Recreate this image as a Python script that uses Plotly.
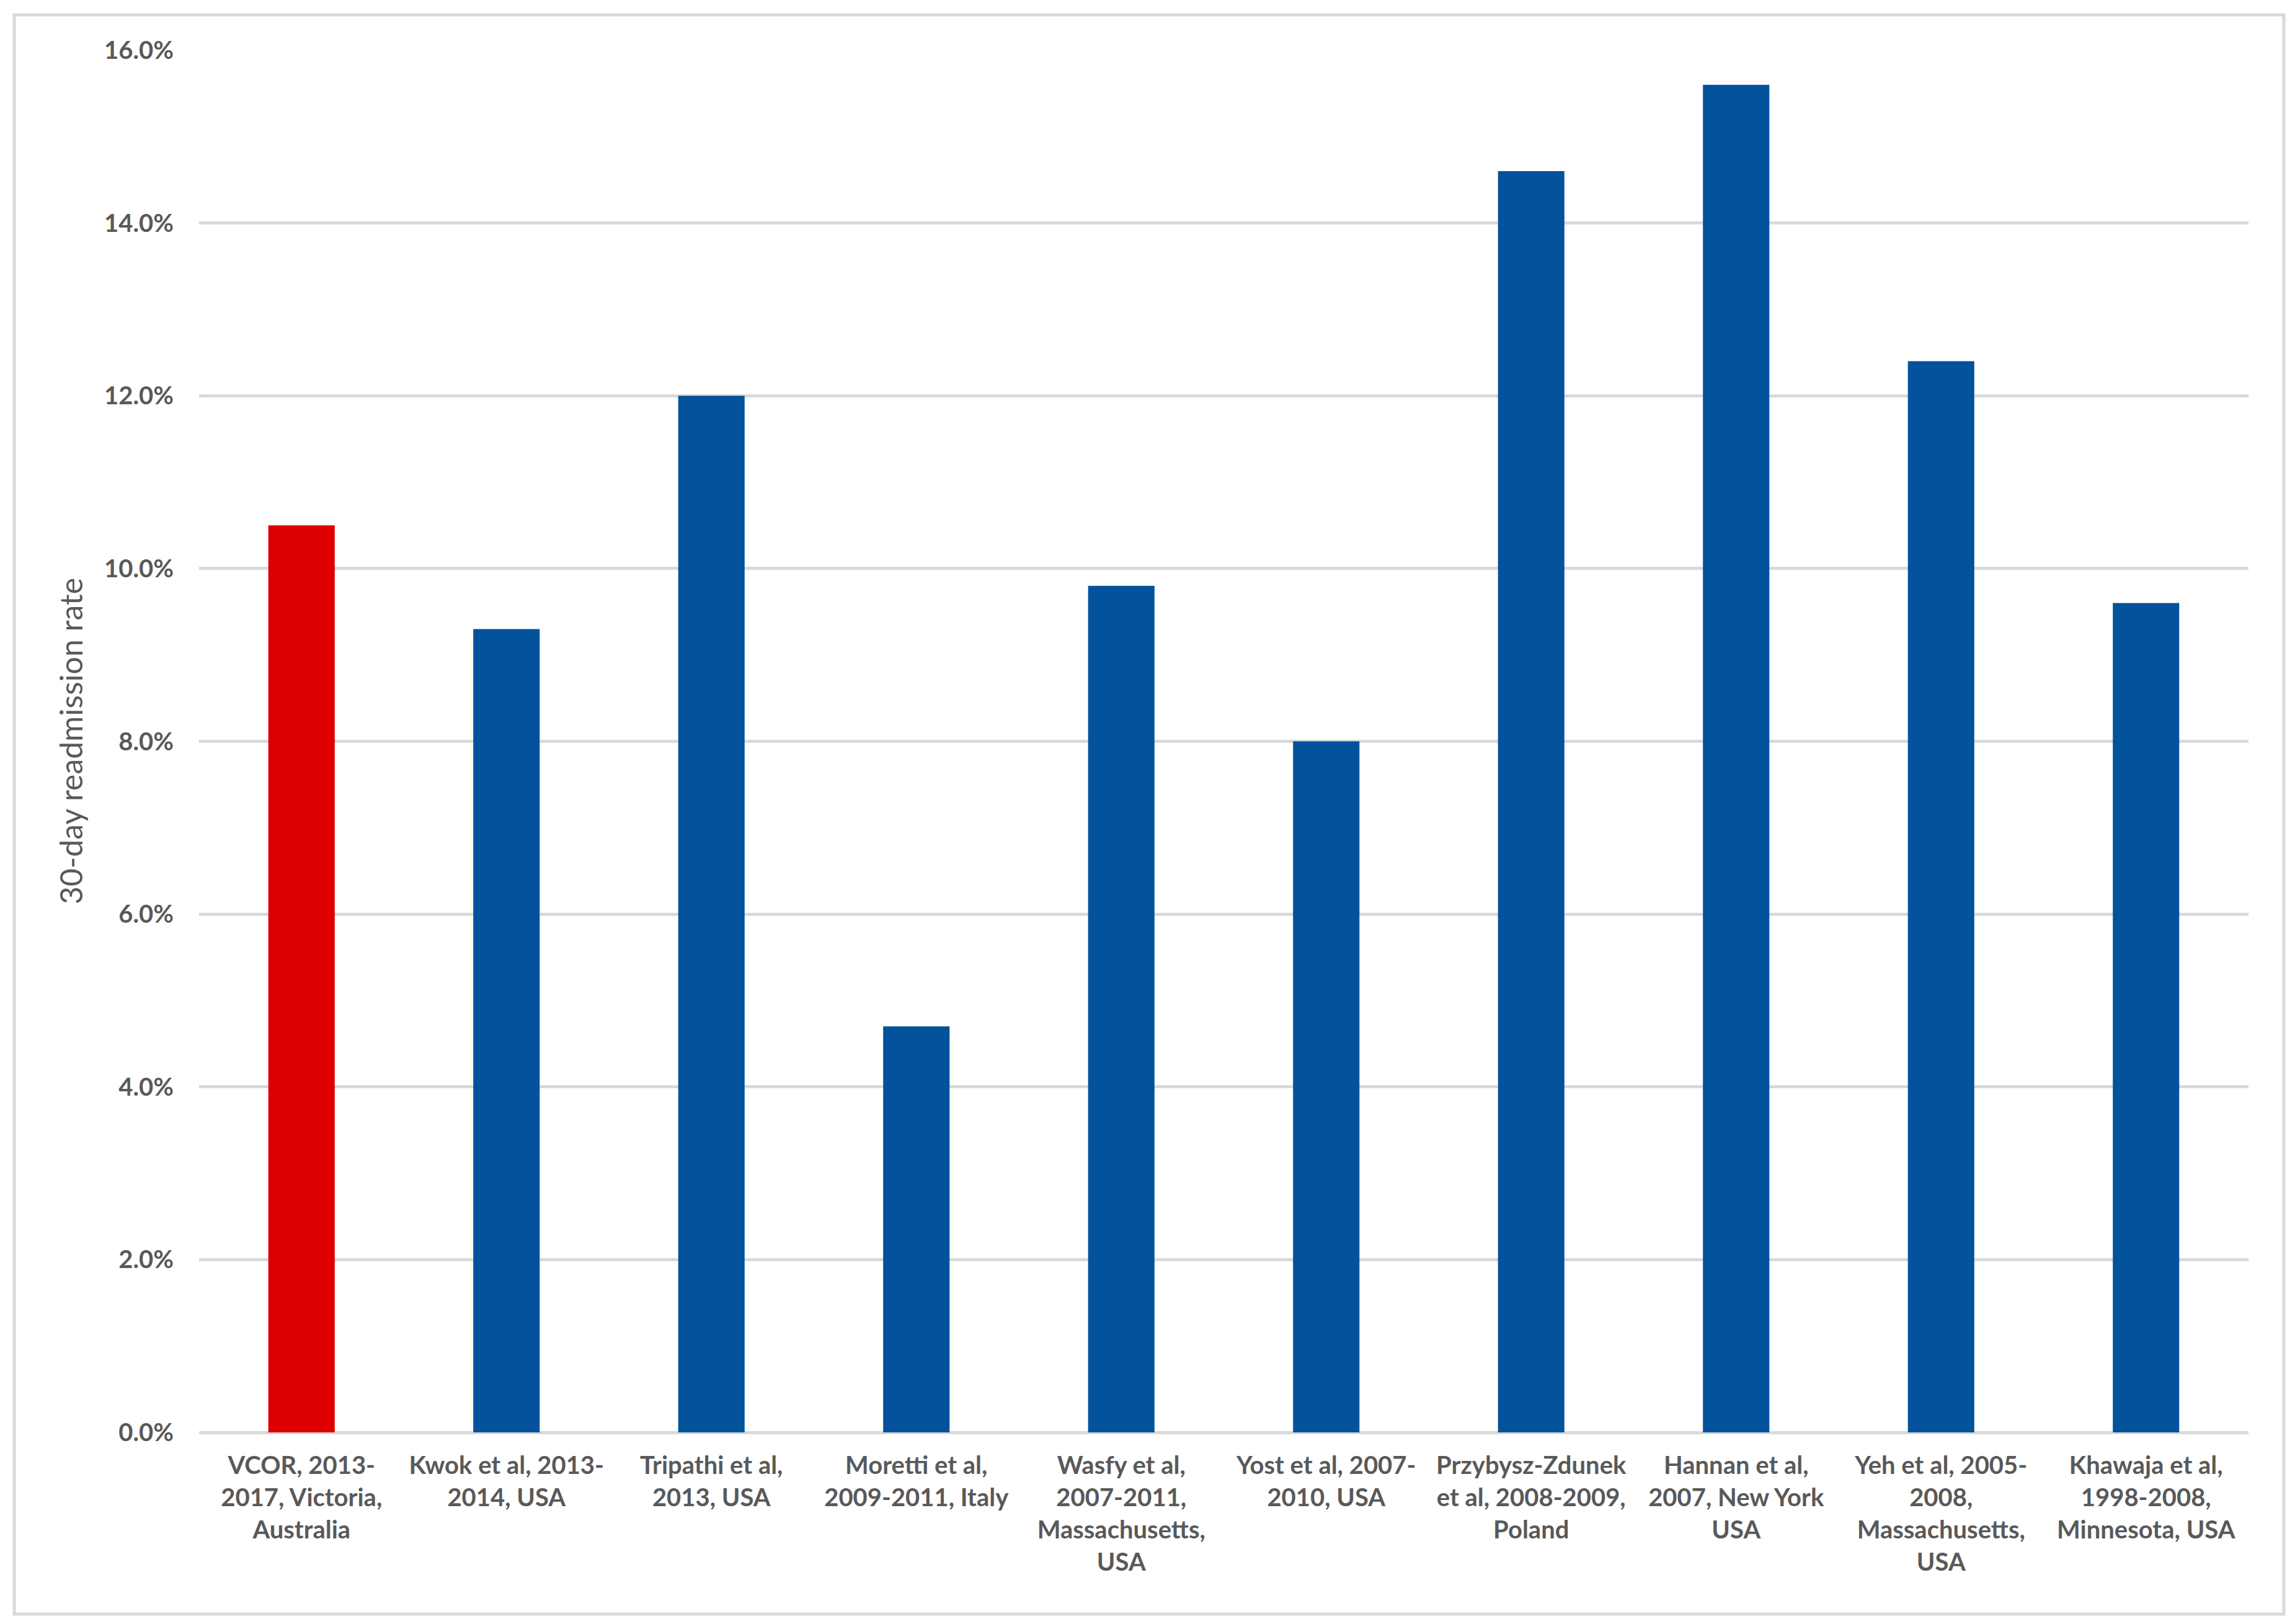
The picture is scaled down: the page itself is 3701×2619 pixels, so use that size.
import plotly.graph_objects as go

# ---- data ----
studies = [
    "VCOR, 2013-<br>2017, Victoria,<br>Australia",
    "Kwok et al, 2013-<br>2014, USA",
    "Tripathi et al,<br>2013, USA",
    "Moretti et al,<br>2009-2011, Italy",
    "Wasfy et al,<br>2007-2011,<br>Massachusetts,<br>USA",
    "Yost et al, 2007-<br>2010, USA",
    "Przybysz-Zdunek<br>et al, 2008-2009,<br>Poland",
    "Hannan et al,<br>2007, New York<br>USA",
    "Yeh et al, 2005-<br>2008,<br>Massachusetts,<br>USA",
    "Khawaja et al,<br>1998-2008,<br>Minnesota, USA",
]
readmission_rate = [10.5, 9.3, 12.0, 4.7, 9.8, 8.0, 14.6, 15.6, 12.4, 9.6]
is_current_study = [True, False, False, False, False, False, False, False, False, False]
y_ticks = [0, 2, 4, 6, 8, 10, 12, 14, 16]
y_tick_labels = ["0.0%", "2.0%", "4.0%", "6.0%", "8.0%", "10.0%", "12.0%", "14.0%", "16.0%"]

RED = "#DE0000"
BLUE = "#02529C"
TEXT = "#595959"
GRID = "#D9D9D9"
FONT = "Lato"

colors = [RED if flag else BLUE for flag in is_current_study]

W, H = 3701, 2619
L, R, T, B = 313, 83, 73, 317

fig = go.Figure(
    go.Bar(
        x=studies,
        y=readmission_rate,
        marker=dict(color=colors, line=dict(width=0)),
        width=0.324,
        showlegend=False,
    )
)

fig.update_layout(
    width=W,
    height=H,
    margin=dict(l=L, r=R, t=T, b=B, autoexpand=False),
    paper_bgcolor="white",
    plot_bgcolor="white",
    font=dict(family=FONT, color=TEXT, size=43),
    xaxis=dict(
        type="category",
        showgrid=False,
        showline=False,
        zeroline=False,
        ticks="",
        tickangle=0,
        tickfont=dict(family=FONT, size=40, color=TEXT, weight="bold"),
        ticklabelstandoff=26,
        automargin=False,
    ),
    yaxis=dict(
        range=[0, 16],
        tickmode="array",
        tickvals=y_ticks,
        ticktext=y_tick_labels,
        showgrid=True,
        gridcolor=GRID,
        gridwidth=5,
        zeroline=True,
        zerolinecolor=GRID,
        zerolinewidth=5,
        showline=False,
        ticks="",
        tickfont=dict(family=FONT, size=40, color=TEXT, weight="bold"),
        ticklabelstandoff=40,
        automargin=False,
    ),
)

pw = W - L - R
ph = H - T - B

# y-axis title
fig.add_annotation(
    text="30-day readmission rate",
    xref="paper", yref="paper",
    x=(105 - L) / pw, y=0.5,
    xanchor="center", yanchor="middle",
    textangle=-90,
    showarrow=False,
    font=dict(family=FONT, size=50, color=TEXT),
)

# outer chart border
fig.add_shape(
    type="rect",
    xref="paper", yref="paper",
    x0=(15 - L) / pw, x1=(3675 - L) / pw,
    y0=(H - B - 2595) / ph, y1=(H - B - 16) / ph,
    line=dict(color=GRID, width=5),
    fillcolor="rgba(0,0,0,0)",
    layer="below",
)

fig.write_html("out.html")
